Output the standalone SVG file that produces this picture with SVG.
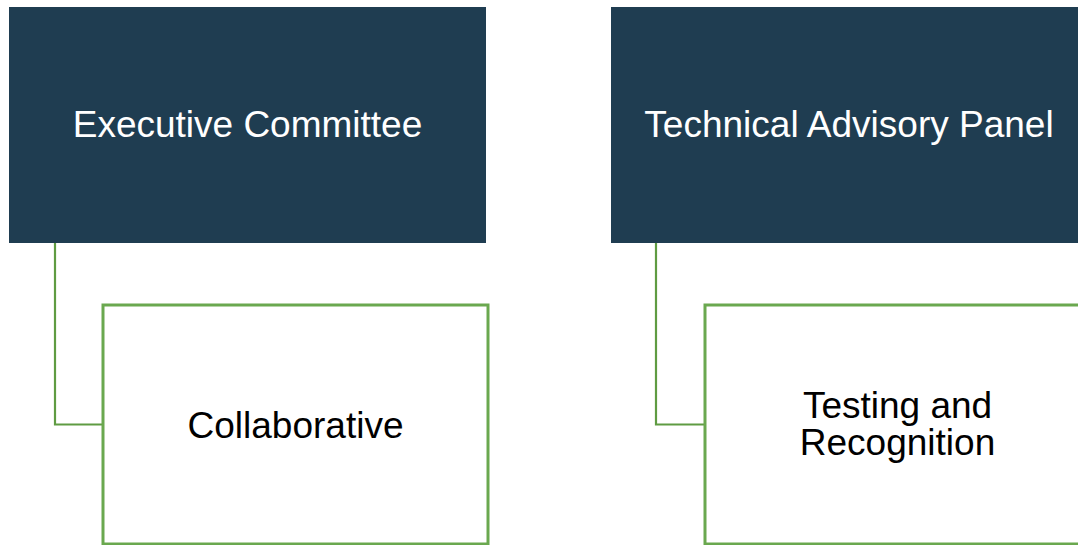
<svg xmlns="http://www.w3.org/2000/svg" width="1078" height="545" viewBox="0 0 1078 545">
<style>
.head{fill:#1f3d51;}
.sub{fill:#ffffff;stroke:#6aa84f;stroke-width:3;}
.conn{fill:none;stroke:#5f9b42;stroke-width:2.2;}
.t{font-family:"Liberation Sans",Arial,sans-serif;font-size:37px;text-anchor:middle;}
.w{fill:#ffffff;}
.b{fill:#000000;}
</style>
<rect width="1078" height="545" fill="#ffffff"/>
<g id="connectors">
<path class="conn" d="M55,243 V424.5 H103"/>
<path class="conn" d="M656,243 V424.5 H705"/>
</g>
<g id="exec">
<rect class="head" x="9" y="7" width="477" height="236"/>
<text class="t w" x="247.5" y="137">Executive Committee</text>
</g>
<g id="tap">
<rect class="head" x="611" y="7" width="477" height="236"/>
<text class="t w" x="849" y="137">Technical Advisory Panel</text>
</g>
<g id="collab">
<rect class="sub" x="103" y="305" width="385" height="239"/>
<text class="t b" x="295.5" y="438">Collaborative</text>
</g>
<g id="testing">
<rect class="sub" x="705" y="305" width="385" height="239"/>
<text class="t b" x="897.5" y="418">Testing and</text>
<text class="t b" x="897.5" y="455">Recognition</text>
</g>
</svg>
